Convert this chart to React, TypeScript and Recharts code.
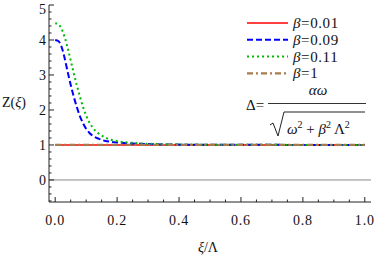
import { LineChart, Line, XAxis, YAxis, ReferenceLine, Legend } from 'recharts';

// curve samples
const xi = [0, 0.01, 0.02, 0.03, 0.04, 0.05, 0.06, 0.07, 0.08, 0.09, 0.1, 0.11, 0.12, 0.14, 0.16, 0.18, 0.2, 0.25, 0.3, 0.4, 0.6, 0.8, 1.0];
const zBeta009 = [4.0, 3.97, 3.82, 3.5, 3.1, 2.72, 2.38, 2.08, 1.82, 1.62, 1.46, 1.35, 1.27, 1.18, 1.12, 1.09, 1.07, 1.04, 1.025, 1.01, 1.004, 1.002, 1.0];
const zBeta011 = [4.48, 4.45, 4.33, 4.1, 3.78, 3.42, 3.05, 2.7, 2.38, 2.08, 1.84, 1.65, 1.51, 1.33, 1.22, 1.15, 1.11, 1.06, 1.035, 1.015, 1.005, 1.002, 1.0];
const xiFlat = [0, 1];
const zBeta001 = [1, 1];
const zBeta1 = [1, 1];

const xTicks = [0, 0.05, 0.1, 0.15, 0.2, 0.25, 0.3, 0.35, 0.4, 0.45, 0.5, 0.55, 0.6, 0.65, 0.7, 0.75, 0.8, 0.85, 0.9, 0.95, 1.0];
const xMajor = [0, 0.2, 0.4, 0.6, 0.8, 1.0];
const yTicks = [-0.6, -0.4, -0.2, 0, 0.2, 0.4, 0.6, 0.8, 1, 1.2, 1.4, 1.6, 1.8, 2, 2.2, 2.4, 2.6, 2.8, 3, 3.2, 3.4, 3.6, 3.8, 4, 4.2, 4.4, 4.6, 4.8, 5];
const yMajor = [0, 1, 2, 3, 4, 5];

const betaLabels = ['0.01', '0.09', '0.11', '1'];

const series = [
  { key: 'b001', xs: xiFlat, ys: zBeta001, color: '#ff0000', dash: undefined, width: 1.6 },
  { key: 'b009', xs: xi, ys: zBeta009, color: '#0000ff', dash: '6 3', width: 2 },
  { key: 'b011', xs: xi, ys: zBeta011, color: '#00bb00', dash: '2 3', width: 2 },
  { key: 'b1', xs: xiFlat, ys: zBeta1, color: '#a87a4c', dash: '6 3 2 3', width: 2.2 },
];

const serif = { fontFamily: "'Liberation Serif'" };
const W = 374;
const H = 258;

type Side = 'bottom' | 'top' | 'left' | 'right';

function makeTick(side: Side) {
  return (props: any) => {
    const { x, y, payload } = props;
    const v: number = payload.value;
    const major = side === 'bottom' || side === 'top'
      ? xMajor.some((m) => Math.abs(m - v) < 1e-6)
      : yMajor.some((m) => Math.abs(m - v) < 1e-6);
    const len = major ? 5 : 2.5;
    let line;
    if (side === 'bottom') line = <line x1={x} x2={x} y1={y} y2={y - len} stroke="#222" />;
    else if (side === 'top') line = <line x1={x} x2={x} y1={y} y2={y + len} stroke="#222" />;
    else if (side === 'left') line = <line x1={x} x2={x + len} y1={y} y2={y} stroke="#222" />;
    else line = <line x1={x} x2={x - len} y1={y} y2={y} stroke="#222" />;
    let label = null;
    if (major && side === 'bottom') {
      label = (
        <text x={x} y={y + 23} textAnchor="middle" fontSize={14} style={serif} fill="#111" letterSpacing={0.8}>
          {v.toFixed(1)}
        </text>
      );
    } else if (major && side === 'left') {
      // the top label is kept inside the picture
      label = (
        <text x={x - 3} y={Math.max(y + 5, 14)} textAnchor="end" fontSize={14} style={serif} fill="#111">
          {v}
        </text>
      );
    }
    return (
      <g>
        {line}
        {label}
      </g>
    );
  };
}

function Overlay() {
  return (
    <svg width={W} height={H} style={{ display: 'block' }}>
      {series.map((s, i) => {
        const cy = 23 + i * 16.8;
        return (
          <g key={s.key}>
            <line x1={247} x2={288} y1={cy} y2={cy} stroke={s.color} strokeWidth={s.width} strokeDasharray={s.dash} />
            <text x={293} y={cy + 5} fontSize={15} style={serif} fill="#111" letterSpacing={0.6}>
              <tspan fontStyle="italic">β</tspan>={betaLabels[i]}
            </text>
          </g>
        );
      })}
      <text x={246} y={110} fontSize={15} style={serif} fill="#111">Δ=</text>
      <text x={318} y={95} textAnchor="middle" fontSize={15} style={serif} fontStyle="italic" fill="#111">αω</text>
      <line x1={268} x2={366} y1={103.5} y2={103.5} stroke="#333" strokeWidth={1} />
      <path d="M270,125 L273,123 L278,136 L284,112 L365,112" fill="none" stroke="#222" strokeWidth={1} />
      <text x={287} y={134} fontSize={15} style={serif} fill="#111">
        <tspan fontStyle="italic">ω</tspan>
        <tspan fontSize={10} dy={-6}>2</tspan>
        <tspan dy={6}> + </tspan>
        <tspan fontStyle="italic">β</tspan>
        <tspan fontSize={10} dy={-6}>2</tspan>
        <tspan dy={6}> Λ</tspan>
        <tspan fontSize={10} dy={-6}>2</tspan>
      </text>
      <text x={2} y={107} fontSize={14} style={serif} fill="#111">
        Z(<tspan fontStyle="italic">ξ</tspan>)
      </text>
      <text x={208} y={252} textAnchor="middle" fontSize={14} style={serif} fill="#111">
        <tspan fontStyle="italic">ξ</tspan>/Λ
      </text>
    </svg>
  );
}

export default function App() {
  return (
    <div style={{ position: 'absolute', left: 0, top: 0, width: W, height: H, background: '#fff' }}>
      <LineChart width={W} height={H} margin={{ top: 5, right: 3, bottom: 0, left: 0 }}>
        <XAxis
          xAxisId="bottom"
          type="number"
          dataKey="x"
          domain={[-0.02, 1.02]}
          ticks={xTicks}
          interval={0}
          height={56}
          tickSize={0}
          tickMargin={0}
          tickLine={false}
          axisLine={{ stroke: '#222' }}
          tick={makeTick('bottom')}
          allowDataOverflow
        />
        <XAxis
          xAxisId="top"
          orientation="top"
          type="number"
          dataKey="x"
          domain={[-0.02, 1.02]}
          ticks={xTicks}
          interval={0}
          height={0}
          tickSize={0}
          tickMargin={0}
          tickLine={false}
          axisLine={{ stroke: '#222' }}
          tick={makeTick('top')}
          allowDataOverflow
        />
        <YAxis
          yAxisId="left"
          type="number"
          domain={[-0.63, 5]}
          ticks={yTicks}
          interval={0}
          width={49}
          tickSize={0}
          tickMargin={0}
          tickLine={false}
          axisLine={{ stroke: '#222' }}
          tick={makeTick('left')}
          allowDataOverflow
        />
        <YAxis
          yAxisId="right"
          orientation="right"
          type="number"
          domain={[-0.63, 5]}
          ticks={yTicks}
          interval={0}
          width={0}
          tickSize={0}
          tickMargin={0}
          tickLine={false}
          axisLine={{ stroke: '#222' }}
          tick={makeTick('right')}
          allowDataOverflow
        />
        <ReferenceLine xAxisId="bottom" yAxisId="left" y={0} stroke="#888" strokeWidth={1} />
        {series.map((s) => (
          <Line
            key={s.key}
            xAxisId="bottom"
            yAxisId="left"
            data={s.xs.map((x, i) => ({ x, z: s.ys[i] }))}
            dataKey="z"
            type="monotone"
            stroke={s.color}
            strokeWidth={s.width}
            strokeDasharray={s.dash}
            dot={false}
            activeDot={false}
            isAnimationActive={false}
          />
        ))}
        <Legend
          layout="vertical"
          align="center"
          verticalAlign="middle"
          wrapperStyle={{ left: 0, top: 0, width: W, height: H, pointerEvents: 'none' }}
          content={<Overlay />}
        />
      </LineChart>
    </div>
  );
}
